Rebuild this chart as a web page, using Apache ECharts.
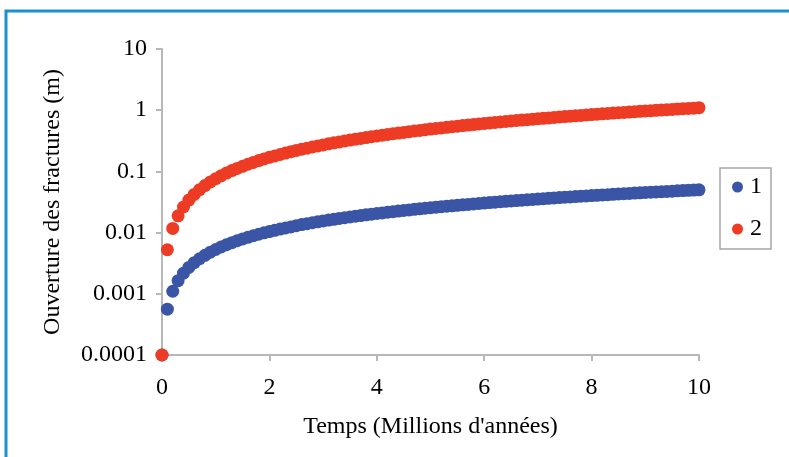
<!DOCTYPE html>
<html>
<head>
<meta charset="utf-8">
<script src="https://cdn.jsdelivr.net/npm/echarts@6/dist/echarts.min.js"></script>
<style>
html,body{margin:0;padding:0;background:#fff;}
#chart{width:789px;height:457px;}
</style>
</head>
<body>
<div id="chart"></div>
<script>
const times = [0,0.1,0.2,0.3,0.4,0.5,0.6,0.7,0.8,0.9,1,1.1,1.2,1.3,1.4,1.5,1.6,1.7,1.8,1.9,2,2.1,2.2,2.3,2.4,2.5,2.6,2.7,2.8,2.9,3,3.1,3.2,3.3,3.4,3.5,3.6,3.7,3.8,3.9,4,4.1,4.2,4.3,4.4,4.5,4.6,4.7,4.8,4.9,5,5.1,5.2,5.3,5.4,5.5,5.6,5.7,5.8,5.9,6,6.1,6.2,6.3,6.4,6.5,6.6,6.7,6.8,6.9,7,7.1,7.2,7.3,7.4,7.5,7.6,7.7,7.8,7.9,8,8.1,8.2,8.3,8.4,8.5,8.6,8.7,8.8,8.9,9,9.1,9.2,9.3,9.4,9.5,9.6,9.7,9.8,9.9,10];

const series1 = [0.0001,
0.000561,0.00110,0.00164,0.00217,0.00270,0.00322,0.00374,0.00426,0.00478,0.00530,
0.00582,0.00633,0.00685,0.00736,0.00787,0.00838,0.00889,0.00940,0.00991,0.0104,
0.0109,0.0114,0.0119,0.0124,0.0130,0.0135,0.0140,0.0145,0.0150,0.0155,
0.0160,0.0165,0.0170,0.0175,0.0180,0.0185,0.0190,0.0195,0.0200,0.0205,
0.0210,0.0215,0.0220,0.0225,0.0230,0.0235,0.0240,0.0245,0.0250,0.0255,
0.0260,0.0265,0.0270,0.0274,0.0279,0.0284,0.0289,0.0294,0.0299,0.0304,
0.0309,0.0314,0.0319,0.0324,0.0329,0.0334,0.0339,0.0343,0.0348,0.0353,
0.0358,0.0363,0.0368,0.0373,0.0378,0.0383,0.0388,0.0393,0.0398,0.0403,
0.0407,0.0412,0.0417,0.0422,0.0427,0.0432,0.0437,0.0442,0.0447,0.0452,
0.0456,0.0461,0.0466,0.0471,0.0476,0.0481,0.0486,0.0491,0.0496,0.0500];

const series2 = [0.0001,
0.00525,0.0117,0.0188,0.0262,0.0340,0.0420,0.0502,0.0586,0.0672,0.0759,
0.0848,0.0938,0.103,0.112,0.121,0.131,0.140,0.150,0.160,0.170,
0.179,0.189,0.199,0.210,0.220,0.230,0.240,0.251,0.261,0.271,
0.282,0.293,0.303,0.314,0.325,0.335,0.346,0.357,0.368,0.379,
0.390,0.401,0.412,0.423,0.434,0.446,0.457,0.468,0.480,0.491,
0.502,0.514,0.525,0.537,0.548,0.560,0.572,0.583,0.595,0.607,
0.618,0.630,0.642,0.654,0.666,0.678,0.689,0.701,0.713,0.725,
0.737,0.749,0.762,0.774,0.786,0.798,0.810,0.822,0.835,0.847,
0.859,0.871,0.884,0.896,0.909,0.921,0.933,0.946,0.958,0.971,
0.983,0.996,1.01,1.02,1.03,1.05,1.06,1.07,1.08,1.10];

const seriesNames = ['1','2'];
const yTickLabels = ['10','1','0.1','0.01','0.001','0.0001'];
const xTickValues = [0,2,4,6,8,10];
const xTitle = "Temps (Millions d'années)";
const yTitle = 'Ouverture des fractures (m)';

const FONT = '"Liberation Serif", "Times New Roman", serif';
const AXIS_COLOR = '#B8B8B8';

const chart = echarts.init(document.getElementById('chart'), null, {renderer:'canvas'});
chart.setOption({
  animation: false,
  backgroundColor: '#ffffff',
  graphic: [{
    type: 'rect',
    shape: {x: 6, y: 11, width: 900, height: 600},
    style: {fill: 'none', stroke: '#1A92CE', lineWidth: 3},
    silent: true
  }],
  grid: {left: 162, right: 90, top: 49, bottom: 102, containLabel: false},
  legend: {
    data: seriesNames,
    orient: 'vertical',
    left: 720, top: 168,
    icon: 'circle',
    itemWidth: 11, itemHeight: 11,
    itemGap: 18,
    padding: [7, 9, 8, 12],
    borderColor: '#A6A6A6', borderWidth: 1.5,
    textStyle: {fontFamily: FONT, fontSize: 24, color: '#000', padding: [0,0,0,2]}
  },
  xAxis: {
    type: 'value', min: 0, max: 10, interval: 2,
    name: xTitle, nameLocation: 'middle', nameGap: 60,
    nameTextStyle: {fontFamily: FONT, fontSize: 24, color: '#000'},
    axisLine: {show: true, lineStyle: {color: AXIS_COLOR, width: 2}},
    axisTick: {show: true, length: 6, inside: false, lineStyle: {color: AXIS_COLOR, width: 2}},
    axisLabel: {fontFamily: FONT, fontSize: 24, color: '#000', margin: 21,
      formatter: v => (xTickValues.indexOf(v) >= 0 ? String(v) : '')},
    splitLine: {show: false}
  },
  yAxis: {
    type: 'log', logBase: 10, min: 0.0001, max: 10,
    name: yTitle, nameLocation: 'middle', nameGap: 97, nameRotate: 90,
    nameTextStyle: {fontFamily: FONT, fontSize: 24, color: '#000'},
    axisLine: {show: true, lineStyle: {color: AXIS_COLOR, width: 2}},
    axisTick: {show: true, length: 6, inside: false, lineStyle: {color: AXIS_COLOR, width: 2}},
    axisLabel: {fontFamily: FONT, fontSize: 24, color: '#000', margin: 15,
      formatter: v => { const e = Math.round(Math.log10(v)); return yTickLabels[1 - e] || ''; }},
    splitLine: {show: false},
    minorTick: {show: false}
  },
  series: [
    {name: seriesNames[0], type: 'scatter', symbol: 'circle', symbolSize: 13,
     itemStyle: {color: '#3B55A6', opacity: 1},
     data: times.map((t, i) => [t, series1[i]])},
    {name: seriesNames[1], type: 'scatter', symbol: 'circle', symbolSize: 13,
     itemStyle: {color: '#EE3B24', opacity: 1},
     data: times.map((t, i) => [t, series2[i]])}
  ]
});
</script>
</body>
</html>
